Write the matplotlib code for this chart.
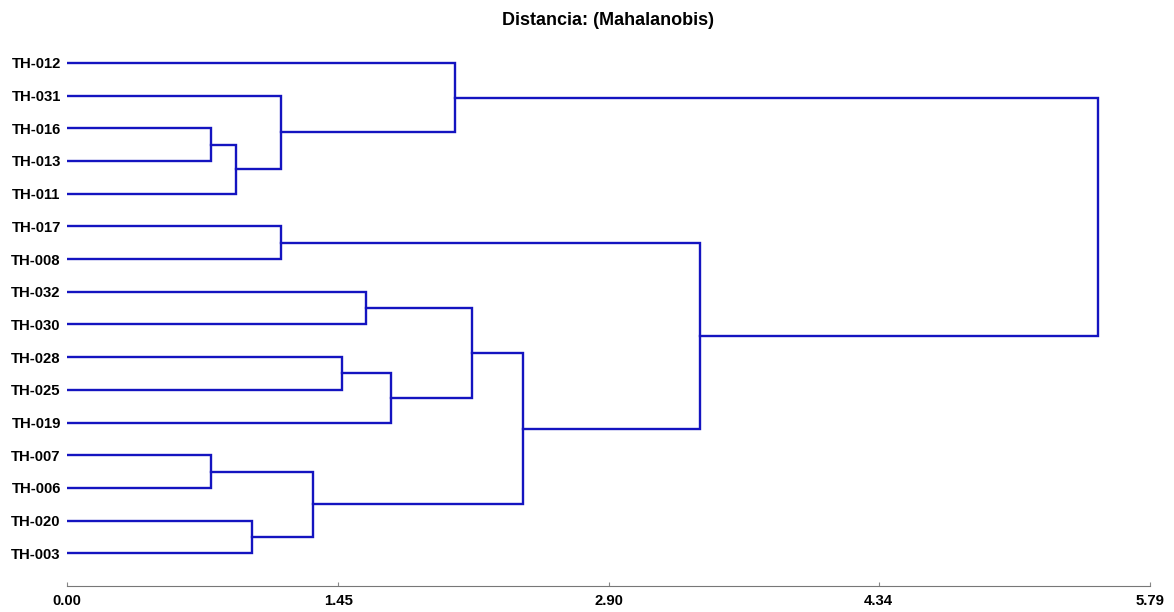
import matplotlib.pyplot as plt

plt.rcParams['font.family'] = ['Liberation Sans', 'DejaVu Sans']

# hojas en orden de arriba a abajo
leaves = ['TH-012', 'TH-031', 'TH-016', 'TH-013', 'TH-011', 'TH-017', 'TH-008',
          'TH-032', 'TH-030', 'TH-028', 'TH-025', 'TH-019', 'TH-007', 'TH-006',
          'TH-020', 'TH-003']

# uniones: (nodo a, nodo b, distancia); nodos nuevos se numeran desde 16
merges = [
    (2, 3, 0.770),     # 16: 016-013
    (12, 13, 0.770),   # 17: 007-006
    (16, 4, 0.904),    # 18
    (14, 15, 0.988),   # 19: 020-003
    (1, 18, 1.144),    # 20
    (5, 6, 1.144),     # 21: 017-008
    (17, 19, 1.314),   # 22
    (9, 10, 1.472),    # 23: 028-025
    (7, 8, 1.599),     # 24: 032-030
    (23, 11, 1.731),   # 25
    (0, 20, 2.075),    # 26
    (24, 25, 2.166),   # 27
    (27, 22, 2.437),   # 28
    (21, 28, 3.385),   # 29
    (26, 29, 5.513),   # 30
]

xticks = [0.00, 1.45, 2.90, 4.34, 5.79]
color = '#1414c0'

fig = plt.figure(figsize=(11.74, 6.12), dpi=100)
ax = fig.add_axes([67 / 1174, 1 - 586 / 612, (1150 - 67) / 1174, 546 / 612])

pos = {i: (0.0, float(i)) for i in range(len(leaves))}
for k, (a, b, h) in enumerate(merges):
    xa, ya = pos[a]
    xb, yb = pos[b]
    ax.plot([xa, h, h, xb], [ya, ya, yb, yb], color=color, lw=1.7,
            solid_joinstyle='miter')
    pos[len(leaves) + k] = (h, (ya + yb) / 2)

ax.set_xlim(0, 5.79)
ax.set_ylim(16.0, -0.7)
ax.set_yticks(range(len(leaves)))
ax.set_yticklabels(leaves, fontsize=10.7, fontweight='bold')
ax.tick_params(axis='y', length=0, pad=4.5)
ax.set_xticks(xticks)
ax.set_xticklabels([f'{t:.2f}' for t in xticks], fontsize=10.7, fontweight='bold')
ax.tick_params(axis='x', direction='in', length=3, color='#888888', pad=6)
for s in ['top', 'right', 'left']:
    ax.spines[s].set_visible(False)
ax.spines['bottom'].set_color('#777777')
ax.spines['bottom'].set_linewidth(0.8)
ax.set_title('Distancia: (Mahalanobis)', fontsize=13, fontweight='bold', pad=11)

fig.savefig('out.png', dpi=100)
